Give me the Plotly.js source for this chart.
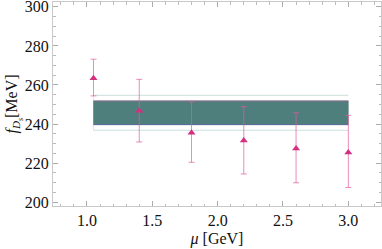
<!DOCTYPE html>
<html><head><meta charset="utf-8">
<script src="https://cdn.plot.ly/plotly-3.0.1.min.js"></script>
<style>html,body{margin:0;padding:0;background:#fff}#c{width:382px;height:249px}</style>
</head><body><div id="c"></div>
<script>
const mu = [1.05, 1.4, 1.8, 2.2, 2.6, 3.0];
const fDs = [263.5, 246.8, 235.5, 231.5, 227.4, 225.4];
const errPlus = [9.7, 16.1, 15.8, 17.4, 18.4, 19.0];
const errMinus = [9.1, 16.0, 15.1, 17.1, 17.5, 17.9];
const bandX = [1.05, 3.0];
const bandInner = [239.7, 251.8];
const bandOuter = [236.8, 254.7];
const xTicks = [1.0, 1.5, 2.0, 2.5, 3.0];
const yTicks = [200, 220, 240, 260, 280, 300];

const traces = [
  {x: [bandX[0], bandX[1]], y: [bandOuter[1], bandOuter[1]], mode: 'lines', line: {color: '#c9dfdd', width: 1}, hoverinfo: 'skip'},
  {x: [bandX[0], bandX[1]], y: [bandOuter[0], bandOuter[0]], mode: 'lines', line: {color: '#c9dfdd', width: 1}, hoverinfo: 'skip'},
  {x: [bandX[0], bandX[0]], y: [bandOuter[0], bandOuter[1]], mode: 'lines', line: {color: '#dbe8e7', width: 1}, hoverinfo: 'skip'},
  {x: [bandX[0], bandX[1], bandX[1], bandX[0], bandX[0]],
   y: [bandInner[0], bandInner[0], bandInner[1], bandInner[1], bandInner[0]],
   mode: 'lines', fill: 'toself', fillcolor: '#4f7f7c', line: {color: '#4f7f7c', width: 0.5}, hoverinfo: 'skip'},
  {x: [bandX[0], bandX[1]], y: [bandInner[1], bandInner[1]], mode: 'lines', line: {color: '#8a6f8a', width: 1}, hoverinfo: 'skip'},
  {x: [bandX[0], bandX[1]], y: [bandInner[0], bandInner[0]], mode: 'lines', line: {color: '#5a6a96', width: 1}, hoverinfo: 'skip'},
  {x: mu, y: fDs, mode: 'markers', type: 'scatter',
   marker: {symbol: 'triangle-up', size: 7, color: '#d42f80'},
   error_y: {type: 'data', symmetric: false, array: errPlus, arrayminus: errMinus,
             color: 'rgba(225,90,160,0.7)', thickness: 1, width: 3}}
];

const serif = 'Liberation Serif';
const tickFont = {family: serif, size: 16, color: '#111'};
const layout = {
  width: 382, height: 249,
  margin: {l: 53, r: 1, t: 2, b: 43},
  paper_bgcolor: '#fff', plot_bgcolor: '#fff',
  showlegend: false,
  font: {family: serif, size: 16, color: '#111'},
  xaxis: {
    range: [0.74, 3.25], tickvals: xTicks, ticktext: xTicks.map(v => v.toFixed(1)),
    ticks: 'inside', ticklen: 5, tickcolor: '#aaa', tickwidth: 1,
    minor: {dtick: 0.1, ticks: 'inside', ticklen: 2.5, tickcolor: '#bbb', showgrid: false},
    showline: true, linecolor: '#c8c8c8', linewidth: 1, mirror: 'ticks',
    showgrid: false, zeroline: false, tickfont: tickFont, ticklabeloverflow: 'allow',
    title: {text: '<i>μ</i> [GeV]', font: {family: serif, size: 16, color: '#111'}, standoff: 4}
  },
  yaxis: {
    range: [198, 302.5], tickvals: yTicks, ticktext: yTicks.map(String),
    ticks: 'inside', ticklen: 5, tickcolor: '#aaa', tickwidth: 1,
    minor: {dtick: 5, ticks: 'inside', ticklen: 2.5, tickcolor: '#bbb', showgrid: false},
    showline: true, linecolor: '#c8c8c8', linewidth: 1, mirror: 'ticks',
    showgrid: false, zeroline: false, tickfont: tickFont, ticklabeloverflow: 'allow',
    title: {text: '<i>f</i><sub><i>D<sub>s</sub></i></sub>[MeV]', font: {family: serif, size: 16, color: '#111'}, standoff: 2}
  }
};
Plotly.newPlot('c', traces, layout, {displayModeBar: false, staticPlot: true});
</script></body></html>
